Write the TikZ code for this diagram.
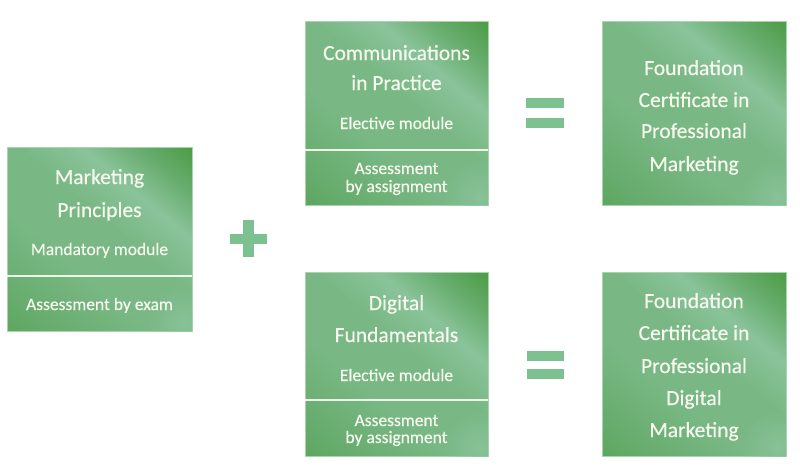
\documentclass[tikz,border=0pt]{standalone}
\usepackage{fontspec}
\setmainfont{Carlito}[FakeBold=0.35]
\usetikzlibrary{fadings}
\definecolor{gdark}{HTML}{4A9B42}
\definecolor{gmid}{HTML}{66AC6C}
\definecolor{glight}{HTML}{8AC39A}
\definecolor{gtl}{HTML}{79B885}
\definecolor{gedge}{HTML}{A8D4B0}
\definecolor{symcol}{HTML}{7EC190}
\definecolor{txtcol}{HTML}{F7F9EE}
\pgfdeclarehorizontalshading{boxsh}{100bp}{color(0bp)=(gdark); color(22bp)=(gmid); color(40bp)=(gtl); color(55bp)=(gtl); color(66bp)=(glight); color(76bp)=(gmid); color(86bp)=(gdark); color(100bp)=(gdark)}
\tikzfading[name=radfade, inner color=transparent!0, outer color=transparent!100]
\tikzset{
  x=1pt, y=-1pt,
  gbox/.style={draw=gedge, line width=0.8pt, shading=boxsh, shading angle=50},
  divline/.style={draw=txtcol!90!gedge, line width=1.5pt},
  ttl/.style={anchor=base, text=txtcol, font=\fontsize{21.5}{24}\selectfont, inner sep=0pt},
  sub/.style={anchor=base, text=txtcol, font=\fontsize{17.5}{20}\selectfont, inner sep=0pt},
  symb/.style={fill=symcol, draw=none},
}
\begin{document}
\begin{tikzpicture}
\useasboundingbox[fill=white] (0,0) rectangle (800,467);

% boxes
\foreach \nm/\xa/\ya/\xb/\yb in {mp/7/147/192/331, cp/305/21/488/205, fcpm/602/21/786/205, dfm/305/272/488/456, fcdm/602/272/786/456}{
  \path[gbox] (\xa,\ya) rectangle (\xb,\yb);
  \begin{scope}
    \clip (\xa,\ya) rectangle (\xb,\yb);
    \fill[glight, path fading=radfade, opacity=0.9] (\xb-8,\yb-8) circle (38);
  \end{scope}
  \coordinate (\nm-nw) at (\xa,\ya);
  \coordinate (\nm-se) at (\xb,\yb);
}

% dividers
\coordinate (mp-d) at (0,276);
\coordinate (cp-d) at (0,150);
\coordinate (dfm-d) at (0,400);
\draw[divline] (mp-nw |- mp-d) -- (mp-se |- mp-d);
\draw[divline] (cp-nw |- cp-d) -- (cp-se |- cp-d);
\draw[divline] (dfm-nw |- dfm-d) -- (dfm-se |- dfm-d);

% left box text
\node[ttl] (mp1) at (99.5,184) {Marketing};
\node[ttl] (mp2) at (99.5,217) {Principles};
\node[sub] (mp3) at (99.5,255) {Mandatory module};
\node[sub] (mp4) at (99.5,310) {Assessment by exam};

% top middle
\node[ttl] (cp1) at (396.5,60) {Communications};
\node[ttl] (cp2) at (396.5,90) {in Practice};
\node[sub] (cp3) at (396.5,129) {Elective module};
\node[sub] (cp4) at (396.5,174) {Assessment};
\node[sub] (cp5) at (396.5,192) {by assignment};

% bottom middle
\node[ttl] (df1) at (396.5,310) {Digital};
\node[ttl] (df2) at (396.5,342) {Fundamentals};
\node[sub] (df3) at (396.5,381) {Elective module};
\node[sub] (df4) at (396.5,426) {Assessment};
\node[sub] (df5) at (396.5,443) {by assignment};

% top right
\node[ttl] (fp1) at (694,75) {Foundation};
\node[ttl] (fp2) at (694,107) {Certificate in};
\node[ttl] (fp3) at (694,138) {Professional};
\node[ttl] (fp4) at (694,171) {Marketing};

% bottom right
\node[ttl] (fd1) at (694,308) {Foundation};
\node[ttl] (fd2) at (694,340) {Certificate in};
\node[ttl] (fd3) at (694,373) {Professional};
\node[ttl] (fd4) at (694,405) {Digital};
\node[ttl] (fd5) at (694,437) {Marketing};

% plus
\fill[symb] (243,220) rectangle (253.5,257);
\fill[symb] (230,233.5) rectangle (267,243.5);

% equals
\fill[symb] (526,98) rectangle (564,108);
\fill[symb] (526,118) rectangle (564,128);
\fill[symb] (527,351) rectangle (564,361);
\fill[symb] (527,369) rectangle (564,379);
\end{tikzpicture}
\end{document}
